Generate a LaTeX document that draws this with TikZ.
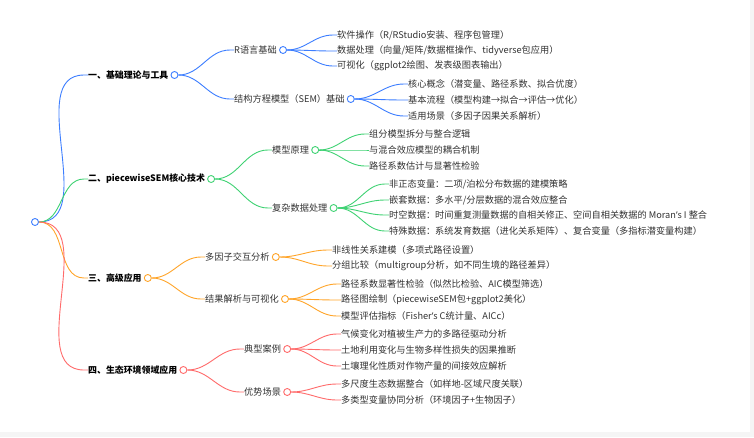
\documentclass[tikz,border=0pt]{standalone}
\usepackage{fontspec}
\setmainfont{Noto Sans CJK SC}
\newfontfamily\lat{Noto Sans}
\usetikzlibrary{calc}
\definecolor{cb}{HTML}{3D7EFF}
\definecolor{cg}{HTML}{3FD273}
\definecolor{co}{HTML}{FFA52A}
\definecolor{cr}{HTML}{FF6B6B}
\definecolor{tx}{HTML}{333333}
\tikzset{
 txt/.style={anchor=west,inner sep=0pt,font=\fontsize{9.2pt}{10pt}\selectfont,text=tx},
 big/.style={anchor=west,inner sep=0pt,font=\fontsize{8.9pt}{10pt}\selectfont\bfseries,text=black},
 circ/.style={circle,draw=#1,fill=white,line width=0.9pt,inner sep=0pt,minimum size=7pt},
 edge/.style={draw=#1,line width=0.9pt}
}
\newcommand{\lvl}[6]{% name, x, y, text, parent circle, color
 \node[txt] (#1) at (#2pt,-#3pt) {#4};
 \draw[edge=#6] (#5.east) to[out=0,in=180] ([xshift=-4pt]#1.west) -- (#1.west);
}
\newcommand{\midnode}[6]{%
 \lvl{#1}{#2}{#3}{#4}{#5}{#6}
 \node[circ=#6] (#1c) at ([xshift=6pt]#1.east) {};
}
\begin{document}
\begin{tikzpicture}[x=1pt,y=1pt]
\useasboundingbox (0,0) rectangle (754,-437);
\fill[white] (0,0) rectangle (754,-437);
\fill[gray!8] (0,-432) rectangle (754,-437);
\fill[gray!8] (750,0) rectangle (754,-437);
\node[circ=cb] (root) at (35,-222) {};
% level 1
\foreach \n/\y/\t/\c in {a/75/{一、基础理论与工具}/cb, b/179/{二、piecewiseSEM核心技术}/cg, c/278/{三、高级应用}/co, d/370/{四、生态环境领域应用}/cr}{
 \node[big] (\n) at (88pt,-\y pt) {\t};
 \node[circ=\c] (\n c) at ([xshift=6pt]\n.east) {};
 \draw[edge=\c] (root.east) to[out=0,in=180] ([xshift=-4pt]\n.west) -- (\n.west);
}
% level 2
\midnode{a1}{234}{50}{R语言基础}{ac}{cb}
\midnode{a2}{234}{99}{结构方程模型（SEM）基础}{ac}{cb}
\midnode{b1}{272}{150}{模型原理}{bc}{cg}
\midnode{b2}{272}{208}{复杂数据处理}{bc}{cg}
\midnode{c1}{205}{257}{多因子交互分析}{cc}{co}
\midnode{c2}{205}{299}{结果解析与可视化}{cc}{co}
\midnode{d1}{244}{349}{典型案例}{dc}{cr}
\midnode{d2}{244}{392}{优势场景}{dc}{cr}
% leaves
\lvl{a11}{337}{35}{软件操作（R/RStudio安装、程序包管理）}{a1c}{cb}
\lvl{a12}{337}{51}{数据处理（向量/矩阵/数据框操作、tidyverse包应用）}{a1c}{cb}
\lvl{a13}{337}{66}{可视化（ggplot2绘图、发表级图表输出）}{a1c}{cb}
\lvl{a21}{408}{84}{核心概念（潜变量、路径系数、拟合优度）}{a2c}{cb}
\lvl{a22}{408}{100}{基本流程（模型构建→拟合→评估→优化）}{a2c}{cb}
\lvl{a23}{408}{116}{适用场景（多因子因果关系解析）}{a2c}{cb}
\lvl{b11}{369}{134}{组分模型拆分与整合逻辑}{b1c}{cg}
\lvl{b12}{369}{150}{与混合效应模型的耦合机制}{b1c}{cg}
\lvl{b13}{369}{166}{路径系数估计与显著性检验}{b1c}{cg}
\lvl{b21}{389}{184}{非正态变量：二项/泊松分布数据的建模策略}{b2c}{cg}
\lvl{b22}{389}{200}{嵌套数据：多水平/分层数据的混合效应整合}{b2c}{cg}
\lvl{b23}{389}{215}{时空数据：时间重复测量数据的自相关修正、空间自相关数据的 Moran{\lat ’}s I 整合}{b2c}{cg}
\lvl{b24}{389}{231}{特殊数据：系统发育数据（进化关系矩阵）、复合变量（多指标潜变量构建）}{b2c}{cg}
\lvl{c11}{332}{250}{非线性关系建模（多项式路径设置）}{c1c}{co}
\lvl{c12}{332}{266}{分组比较（multigroup分析，如不同生境的路径差异）}{c1c}{co}
\lvl{c21}{341}{284}{路径系数显著性检验（似然比检验、AIC模型筛选）}{c2c}{co}
\lvl{c22}{341}{300}{路径图绘制（piecewiseSEM包+ggplot2美化）}{c2c}{co}
\lvl{c23}{341}{316}{模型评估指标（Fisher{\lat ’}s C统计量、AICc）}{c2c}{co}
\lvl{d11}{341}{334}{气候变化对植被生产力的多路径驱动分析}{d1c}{cr}
\lvl{d12}{341}{350}{土地利用变化与生物多样性损失的因果推断}{d1c}{cr}
\lvl{d13}{341}{366}{土壤理化性质对作物产量的间接效应解析}{d1c}{cr}
\lvl{d21}{341}{384}{多尺度生态数据整合（如样地-区域尺度关联）}{d2c}{cr}
\lvl{d22}{341}{400}{多类型变量协同分析（环境因子+生物因子）}{d2c}{cr}
\end{tikzpicture}
\end{document}
